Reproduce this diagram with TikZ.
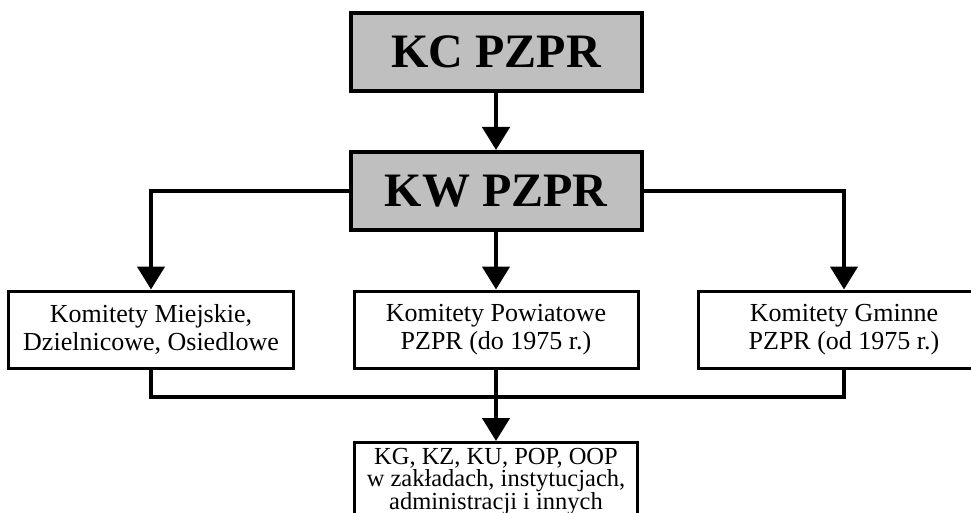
\documentclass[tikz,border=0pt]{standalone}
\usepackage{fontspec}
\setmainfont{Liberation Serif}
\usetikzlibrary{arrows.meta}

\begin{document}
\begin{tikzpicture}[x=1pt,y=-1pt,
    topbox/.style={draw, line width=4pt, fill=black!25, inner sep=0pt,
      minimum width=291pt, minimum height=78pt, font=\fontsize{48}{50}\selectfont\bfseries},
    unitbox/.style={draw, line width=3pt, fill=white, inner sep=0pt, align=center,
      minimum height=77pt, font=\fontsize{26}{28}\selectfont},
    cellbox/.style={draw, line width=3pt, fill=white, inner sep=0pt, align=center,
      minimum width=283pt, minimum height=78pt, font=\fontsize{24.5}{22.5}\selectfont},
    link/.style={line width=4.5pt},
    arrow/.style={link, -{Triangle[length=23pt,width=27pt]}}]
      \useasboundingbox (0,0) rectangle (971,513);
      \clip (0,0) rectangle (971,513);
      % party committees
      \node[topbox] (kc) at (496,52) {KC PZPR};
      \node[topbox] (kw) at (496,191) {KW PZPR};
      % lower committees
      \node[unitbox, minimum width=285pt] (miejskie) at (151,329.5) {Komitety Miejskie,\\Dzielnicowe, Osiedlowe};
      \node[unitbox, minimum width=284pt] (powiatowe) at (496,329.5) {Komitety Powiatowe\\PZPR (do 1975 r.)};
      \node[unitbox, minimum width=292pt] (gminne) at (844,329.5) {Komitety Gminne\\PZPR (od 1975 r.)};
      \node[cellbox, anchor=north] (podst) at (496,441) {KG, KZ, KU, POP, OOP\\w zakładach, instytucjach,\\administracji i innych};
      \coordinate (join) at (496,397);
      % connectors
      \draw[arrow] (kc.south) -- (kw.north);
      \draw[arrow] (kw.west) -| (miejskie.north);
      \draw[arrow] (kw.east) -| (gminne.north);
      \draw[arrow] (kw.south) -- (powiatowe.north);
      \draw[link] (miejskie.south) |- (join);
      \draw[link] (gminne.south) |- (join);
      \draw[arrow] (powiatowe.south) -- (podst.north);
    \end{tikzpicture}
\end{document}
